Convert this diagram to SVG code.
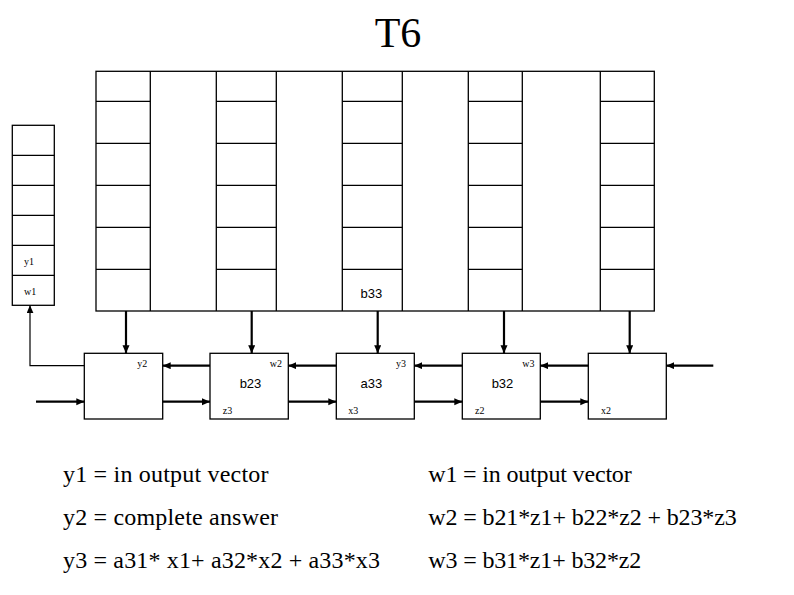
<svg xmlns="http://www.w3.org/2000/svg" width="794" height="595" viewBox="0 0 794 595">
<style>
.b{fill:#fff;stroke:#000;stroke-width:1.3}
.l{stroke:#000;stroke-width:1.3;fill:none}
.c{stroke:#000;stroke-width:2.2;fill:none}
.t{stroke:#000;stroke-width:1.2;fill:none}
.s{font-family:"Liberation Serif","Times New Roman",serif;font-size:10px;fill:#000}
.m{font-family:"Liberation Sans",Arial,sans-serif;font-size:13px;fill:#000;text-anchor:middle}
.e{font-family:"Liberation Serif","Times New Roman",serif;font-size:24px;fill:#000}
</style>
<defs>
<marker id="ah" markerUnits="userSpaceOnUse" markerWidth="10" markerHeight="8" refX="8" refY="3.5" orient="auto">
<path d="M0,0 L8,3.5 L0,7 z" fill="#000"/>
</marker>
</defs>
<rect width="794" height="595" fill="#fff"/>
<text x="398" y="47" font-family="Liberation Serif,'Times New Roman',serif" font-size="42" text-anchor="middle">T6</text>

<g id="vector">
<rect class="b" x="12.3" y="125.3" width="42" height="180"/>
<path class="l" d="M12.3 155.3H54.3M12.3 185.3H54.3M12.3 215.3H54.3M12.3 245.3H54.3M12.3 275.3H54.3"/>
<text class="s" x="24" y="265.3">y1</text>
<text class="s" x="24" y="295">w1</text>
</g>

<g id="grid">
<rect class="b" x="96" y="71.3" width="558.3" height="239.7"/>
<path class="l" d="M150.3 71.3V311M216.3 71.3V311M276.3 71.3V311M342.3 71.3V311M402.3 71.3V311M468.3 71.3V311M522.3 71.3V311M600.3 71.3V311"/>
<path class="l" d="M96 101.3H150.3M96 143.3H150.3M96 185.3H150.3M96 227.3H150.3M96 269.3H150.3"/>
<path class="l" d="M216.3 101.3H276.3M216.3 143.3H276.3M216.3 185.3H276.3M216.3 227.3H276.3M216.3 269.3H276.3"/>
<path class="l" d="M342.3 101.3H402.3M342.3 143.3H402.3M342.3 185.3H402.3M342.3 227.3H402.3M342.3 269.3H402.3"/>
<path class="l" d="M468.3 101.3H522.3M468.3 143.3H522.3M468.3 185.3H522.3M468.3 227.3H522.3M468.3 269.3H522.3"/>
<path class="l" d="M600.3 101.3H654.3M600.3 143.3H654.3M600.3 185.3H654.3M600.3 227.3H654.3M600.3 269.3H654.3"/>
<text class="m" x="371.3" y="298.3">b33</text>
</g>

<g id="pe1">
<rect class="b" x="84.3" y="353.3" width="78.4" height="65.7"/>
<text class="s" x="137.3" y="367.3">y2</text>
</g>
<g id="pe2">
<rect class="b" x="210" y="353.3" width="78.3" height="65.7"/>
<text class="s" x="269.7" y="367.3">w2</text>
<text class="m" x="250.5" y="388.3">b23</text>
<text class="s" x="222.7" y="414.3">z3</text>
</g>
<g id="pe3">
<rect class="b" x="336.3" y="353.3" width="78" height="65.7"/>
<text class="s" x="396" y="367.3">y3</text>
<text class="m" x="371.3" y="388.3">a33</text>
<text class="s" x="348.3" y="414.3">x3</text>
</g>
<g id="pe4">
<rect class="b" x="462.3" y="353.3" width="78" height="65.7"/>
<text class="s" x="522.3" y="367.3">w3</text>
<text class="m" x="502.5" y="388.3">b32</text>
<text class="s" x="475" y="414.3">z2</text>
</g>
<g id="pe5">
<rect class="b" x="588.3" y="353.3" width="78" height="65.7"/>
<text class="s" x="601" y="414.3">x2</text>
</g>

<g id="connectors">
<path class="c" d="M126 311V353.3" marker-end="url(#ah)"/>
<path class="c" d="M251.7 311V353.3" marker-end="url(#ah)"/>
<path class="c" d="M377.7 311V353.3" marker-end="url(#ah)"/>
<path class="c" d="M504 311V353.3" marker-end="url(#ah)"/>
<path class="c" d="M629.7 311V353.3" marker-end="url(#ah)"/>
<path class="c" d="M210 365.7H162.7" marker-end="url(#ah)"/>
<path class="c" d="M336.3 365.7H288.3" marker-end="url(#ah)"/>
<path class="c" d="M462.3 365.7H414.3" marker-end="url(#ah)"/>
<path class="c" d="M588.3 365.7H540.3" marker-end="url(#ah)"/>
<path class="c" d="M713.3 365.7H666.3" marker-end="url(#ah)"/>
<path class="c" d="M36 401.7H84.3" marker-end="url(#ah)"/>
<path class="c" d="M162.7 401.7H210" marker-end="url(#ah)"/>
<path class="c" d="M288.3 401.7H336.3" marker-end="url(#ah)"/>
<path class="c" d="M414.3 401.7H462.3" marker-end="url(#ah)"/>
<path class="c" d="M540.3 401.7H588.3" marker-end="url(#ah)"/>
<path class="t" d="M84.3 365.7H30V305.3" marker-end="url(#ah)"/>
</g>

<g id="legend">
<text class="e" x="63" y="481.7" textLength="205.5">y1 = in output vector</text>
<text class="e" x="63" y="525" textLength="215">y2 = complete answer</text>
<text class="e" x="63" y="568.3" textLength="317">y3 = a31* x1+ a32*x2 + a33*x3</text>
<text class="e" x="428.3" y="481.7" textLength="203.4">w1 = in output vector</text>
<text class="e" x="428.3" y="525" textLength="308.4">w2 = b21*z1+ b22*z2 + b23*z3</text>
<text class="e" x="428.3" y="568.3" textLength="213">w3 = b31*z1+ b32*z2</text>
</g>
</svg>
